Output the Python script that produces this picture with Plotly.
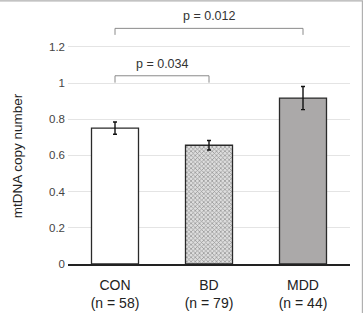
import plotly.graph_objects as go

categories = ["CON<br>(n = 58)", "BD<br>(n = 79)", "MDD<br>(n = 44)"]
values = [0.751, 0.656, 0.917]
errors = [0.034, 0.026, 0.064]
fills = ["#ffffff", "#dedede", "#aba9a9"]
yticks = [0, 0.2, 0.4, 0.6, 0.8, 1.0, 1.2]
ytick_labels = ["0", "0.2", "0.4", "0.6", "0.8", "1", "1.2"]
y_title = "mtDNA copy number"

# significance brackets: (left index, right index, leg bottom, top, label, label y)
brackets = [
    (0, 1, 1.002, 1.040, "p = 0.034", 1.105),
    (0, 2, 1.266, 1.302, "p = 0.012", 1.37),
]

fig = go.Figure()
fig.add_trace(go.Bar(
    x=categories, y=values, width=0.5,
    marker=dict(
        color=fills,
        line=dict(color="#2a2a2a", width=1.3),
        pattern=dict(shape=["", "x", ""], size=3, solidity=0.4,
                     fgcolor="#7a7a7a", fillmode="overlay"),
    ),
    error_y=dict(type="data", array=errors, color="#111111", thickness=1.4, width=2),
    showlegend=False,
))

shapes = []
annotations = []
for (i, j, lo, hi, label, ty) in brackets:
    xi, xj = categories[i], categories[j]
    for (x0, y0, x1, y1) in [(xi, lo, xi, hi), (xi, hi, xj, hi), (xj, hi, xj, lo)]:
        shapes.append(dict(type="line", xref="x", yref="y", x0=x0, y0=y0, x1=x1, y1=y1,
                           line=dict(color="#8a8a8a", width=1)))
    annotations.append(dict(x=(i + j) / 2, y=ty, xref="x", yref="y", text=label,
                            showarrow=False, font=dict(size=12.5, color="#333333")))

# y-axis title centred on the labelled range
annotations.append(dict(x=-0.181, y=(yticks[0] + yticks[-1]) / 2, xref="paper", yref="y",
                        text=y_title, textangle=-90, showarrow=False,
                        xanchor="center", yanchor="middle",
                        font=dict(size=13.5, color="#222222")))

# outer frame
shapes.append(dict(type="rect", xref="paper", yref="paper", x0=-0.4, y0=-0.4, x1=1.044, y1=1.024,
                   line=dict(color="#b0b0b0", width=1.2)))

fig.update_layout(
    width=364, height=313,
    margin=dict(l=68, r=14, t=7, b=49, autoexpand=False),
    paper_bgcolor="white", plot_bgcolor="white",
    font=dict(family="Liberation Sans, Arial, sans-serif", color="#333333"),
    shapes=shapes, annotations=annotations,
    xaxis=dict(
        showgrid=False, showline=True, linecolor="#222222", linewidth=1.5,
        tickfont=dict(size=14, color="#222222"), ticks="", range=[-0.5, 2.5],
        ticklabelstandoff=7, automargin=False,
    ),
    yaxis=dict(
        range=[0, 1.42], tickvals=yticks, ticktext=ytick_labels,
        showgrid=True, gridcolor="#e4e4e4", gridwidth=1, zeroline=False,
        showline=False, ticks="", tickfont=dict(size=11.5, color="#444444"),
        ticklabelstandoff=2, automargin=False,
    ),
)

fig.write_html("out.html")
